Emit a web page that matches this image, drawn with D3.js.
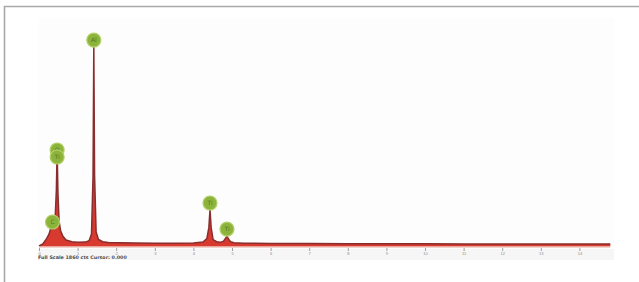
<!DOCTYPE html>
<html>
<head>
<meta charset="utf-8">
<script src="https://cdn.jsdelivr.net/npm/d3@7"></script>
<style>
  html, body { margin: 0; padding: 0; background: #fff; }
  svg { display: block; font-family: "DejaVu Sans", sans-serif; }
</style>
</head>
<body>
<div id="chart"></div>
<script>
// spectrum, energy in keV and counts
const energy = [0, 0.1, 0.2, 0.26, 0.3, 0.34, 0.38, 0.42, 0.45, 0.47, 0.49, 0.52, 0.56, 0.62, 0.7, 0.85,
  1.0, 1.2, 1.3, 1.36, 1.4, 1.42, 1.44, 1.48, 1.54, 1.65, 1.8, 2.1, 2.5, 3.0, 3.5, 4.0,
  4.25, 4.35, 4.4, 4.43, 4.46, 4.51, 4.6, 4.7, 4.78, 4.84, 4.87, 4.9, 4.96, 5.05, 5.3,
  6.0, 7.0, 8.0, 9.0, 10.0, 11.0, 12.0, 13.0, 14.0, 14.8];
const counts = [0, 20, 70, 110, 160, 180, 195, 270, 520, 890, 500, 230, 140, 90, 55, 40,
  35, 36, 50, 110, 650, 1860, 650, 130, 60, 40, 33, 30, 28, 26, 26, 28,
  36, 70, 170, 335, 170, 60, 40, 34, 45, 75, 95, 70, 40, 30, 26,
  24, 22, 21, 20, 20, 19, 19, 19, 19, 19];

// peak markers
const labelNames = ['C', 'O', 'Ti', 'Al', 'Ti', 'Ti'];
const labelEnergy = [0.35, 0.47, 0.47, 1.42, 4.43, 4.87];
const labelCounts = [222, 889, 824, 1907, 398, 157];

const tickValues = [0, 1, 2, 3, 4, 5, 6, 7, 8, 9, 10, 11, 12, 13, 14];
const footerText = 'Full Scale 1860 cts Cursor: 0.000';

const width = 639, height = 282;
const svg = d3.select('#chart').append('svg').attr('width', width).attr('height', height);

// frame
svg.append('path').attr('d', 'M4.5,282 V6.5 H639')
  .attr('fill', 'none').attr('stroke', '#a9a9a9').attr('stroke-width', 1.6);

// plot panel (very faint)
svg.append('rect').attr('x', 38).attr('y', 18).attr('width', 576).attr('height', 242).attr('fill', '#fdfdfd');
svg.append('rect').attr('x', 38).attr('y', 249).attr('width', 576).attr('height', 11).attr('fill', '#f7f6f6');

const x = d3.scaleLinear().domain([0, 15]).range([39, 618]);
const y = d3.scaleLinear().domain([0, 2000]).range([246, 30]);

// axis ticks
const axis = svg.append('g').attr('transform', 'translate(0,248)')
  .call(d3.axisBottom(x).tickValues(tickValues).tickSize(3).tickPadding(1));
axis.select('.domain').remove();
axis.selectAll('line').attr('stroke', '#a0a0a0');
axis.selectAll('text').attr('fill', '#8a8a8a').style('font-size', '4px');

// spectrum
const pts = energy.map((e, i) => [e, counts[i]]);
const area = d3.area().x(d => x(d[0])).y0(y(0)).y1(d => y(d[1]));
const line = d3.line().x(d => x(d[0])).y(d => y(d[1]));

svg.append('path').datum(pts).attr('d', area).attr('fill', '#d93a2f');
svg.append('path').datum(pts).attr('d', line)
  .attr('fill', 'none').attr('stroke', '#8a2d2d').attr('stroke-width', 1.5);
svg.append('line').attr('x1', x(0)).attr('x2', x(14.8)).attr('y1', y(0) + 0.8).attr('y2', y(0) + 0.8)
  .attr('stroke', '#e9a69c').attr('stroke-width', 1.6);

// markers
const mk = svg.selectAll('g.mk').data(labelNames).enter().append('g').attr('class', 'mk')
  .attr('transform', (d, i) => 'translate(' + x(labelEnergy[i]) + ',' + y(labelCounts[i]) + ')');
mk.append('circle').attr('r', 7).attr('fill', '#8db43a').attr('stroke', '#b3d06a').attr('stroke-width', 1.2);
mk.append('text').text(d => d).attr('text-anchor', 'middle').attr('dy', '0.35em')
  .attr('fill', '#56731f').style('font-size', '6px');

// footer
svg.append('text').attr('x', 38).attr('y', 259).text(footerText)
  .attr('fill', '#4a4a4a').style('font-size', '4.8px').style('font-weight', 'bold');
</script>
</body>
</html>
